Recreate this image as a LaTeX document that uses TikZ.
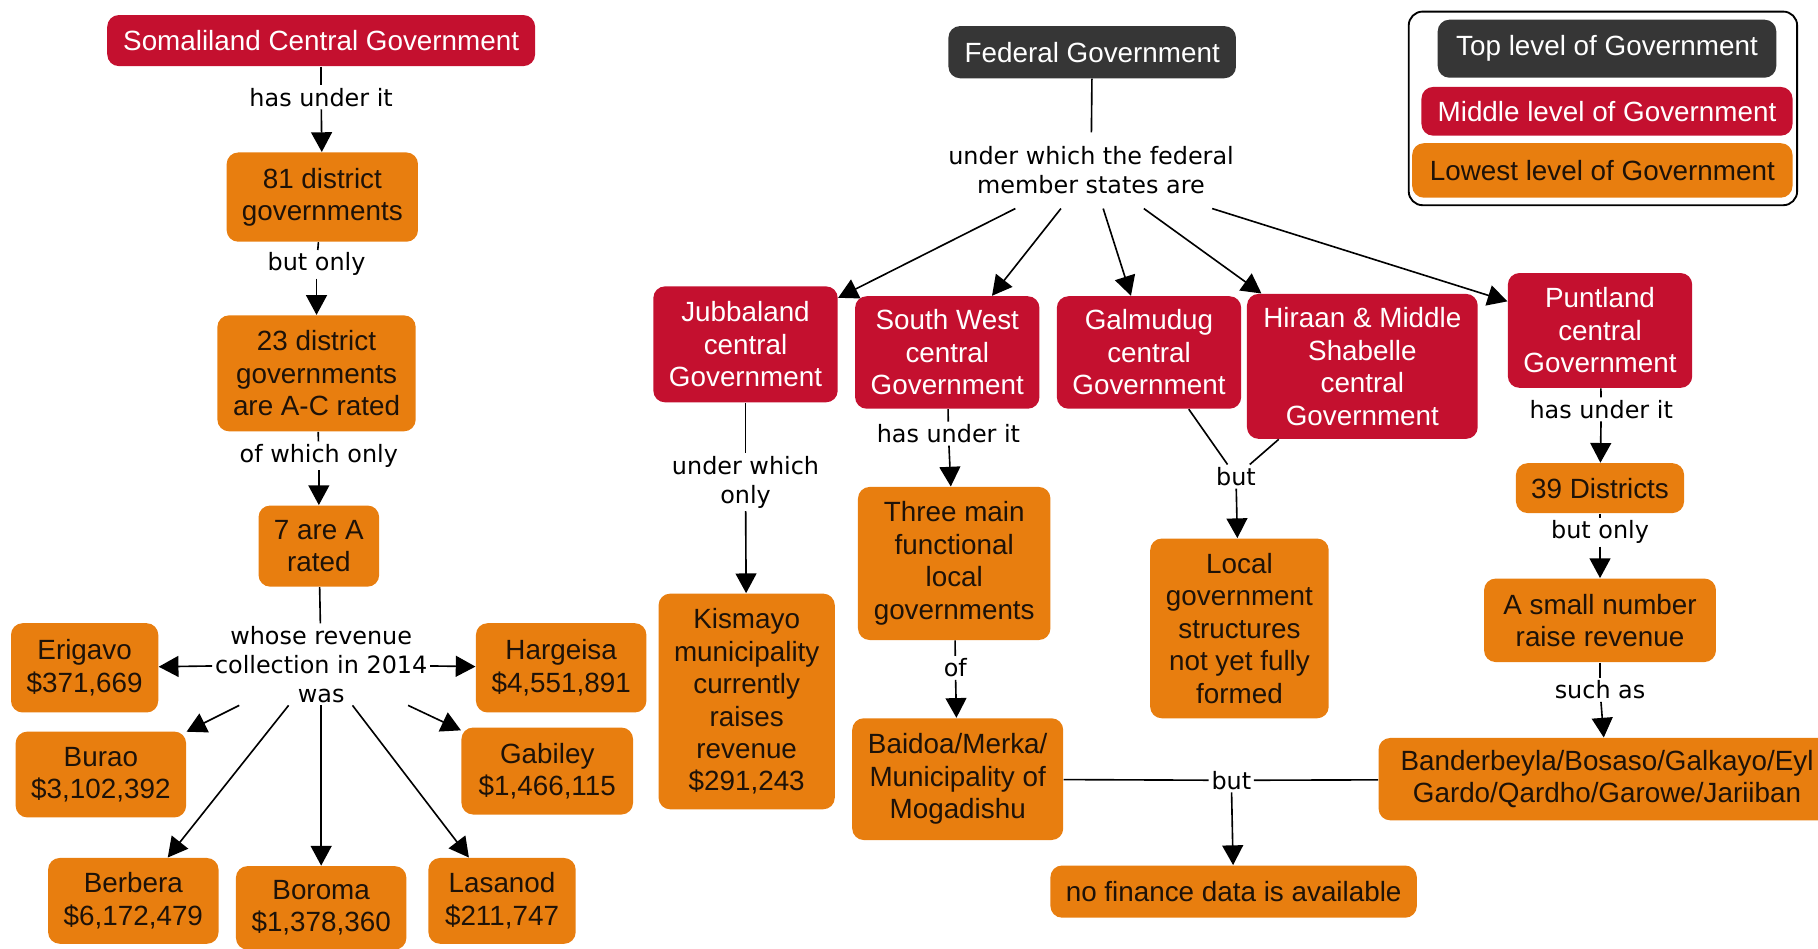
\documentclass[tikz,border=0pt]{standalone}
\usepackage{fontspec}
\setmainfont{Liberation Sans}
\newfontfamily\linkFamily{DejaVu Sans}
\usetikzlibrary{arrows.meta}
\definecolor{topGray}{HTML}{363636}
\definecolor{midRed}{HTML}{C4102F}
\definecolor{lowOrange}{HTML}{E87E0F}
\definecolor{lowText}{HTML}{1E1208}
\newcommand{\boxFont}{\fontsize{12}{14}\selectfont}
\newcommand{\linkFont}{\linkFamily\fontsize{10.3}{12.5}\selectfont}

\begin{document}
\begin{tikzpicture}[x=0.5pt,y=-0.5pt,
        topNode/.style = {fill=topGray,text=white,rounded corners=5pt,align=center,font=\boxFont,inner sep=2pt},
        midNode/.style = {topNode,fill=midRed},
        lowNode/.style = {topNode,fill=lowOrange,text=lowText},
        linkNode/.style = {font=\linkFont,align=center,inner sep=1pt}, % text on a connector
        legendFrame/.style = {draw=black,rounded corners=6pt,line width=0.8pt},
        link/.style = {line width=0.7pt},
        arr/.style = {link,-{Triangle[length=8.5pt,width=9pt]}}
        ]
        \useasboundingbox (0,0) rectangle (1568,818);
        \clip (0,0) rectangle (1568,818);

        % Somaliland
        \node[midNode,minimum width=184.5pt,minimum height=22pt] (som) at (277,35) {Somaliland Central Government};
        \node[lowNode,minimum width=82.5pt,minimum height=38.5pt] (d81) at (278,170) {81 district\\governments};
        \node[lowNode,minimum width=85.5pt,minimum height=50pt] (d23) at (273,322) {23 district\\governments\\are A-C rated};
        \node[lowNode,minimum width=52pt,minimum height=35pt] (d7) at (275,471) {7 are A\\rated};
        \node[lowNode,minimum width=63.5pt,minimum height=38.5pt] (erigavo) at (73,576) {Erigavo\\\$371,669};
        \node[lowNode,minimum width=73.5pt,minimum height=38.5pt] (hargeisa) at (484,576) {Hargeisa\\\$4,551,891};
        \node[lowNode,minimum width=73.5pt,minimum height=37pt] (burao) at (87,668) {Burao\\\$3,102,392};
        \node[lowNode,minimum width=74pt,minimum height=37.5pt] (gabiley) at (472,665) {Gabiley\\\$1,466,115};
        \node[lowNode,minimum width=73.5pt,minimum height=37pt] (berbera) at (115,777) {Berbera\\\$6,172,479};
        \node[lowNode,minimum width=73.5pt,minimum height=36pt] (boroma) at (277,783) {Boroma\\\$1,378,360};
        \node[lowNode,minimum width=63.5pt,minimum height=37pt] (lasanod) at (433,777) {Lasanod\\\$211,747};

        \node[linkNode] (somLbl) at (277,84) {has under it};
        \node[linkNode] (d81Lbl) at (273,228) {but only};
        \node[linkNode] (d23Lbl) at (275,393) {of which only};
        \node[linkNode] (whose) at (277,573) {whose revenue\\collection in 2014\\was};

        \draw[link] (som) -- (somLbl);
        \draw[arr] (somLbl) -- (d81);
        \draw[link] (d81) -- (d81Lbl);
        \draw[arr] (d81Lbl) -- (d23);
        \draw[link] (d23) -- (d23Lbl);
        \draw[arr] (d23Lbl) -- (d7);
        \draw[link] (d7) -- (whose);
        \foreach \town in {erigavo,hargeisa,burao,gabiley,berbera,boroma,lasanod}
            \draw[arr] (whose) -- (\town);

        % Federal
        \node[topNode,minimum width=124pt,minimum height=22.5pt] (fed) at (942,45) {Federal Government};
        \node[linkNode,inner ysep=6pt] (fedLbl) at (941,147) {under which the federal\\member states are};
        \node[midNode,minimum width=79.5pt,minimum height=50pt] (jubba) at (643,297) {Jubbaland\\central\\Government};
        \node[midNode,minimum width=79.5pt,minimum height=48.5pt] (southWest) at (817,304) {South West\\central\\Government};
        \node[midNode,minimum width=79.5pt,minimum height=48.5pt] (galmudug) at (991,304) {Galmudug\\central\\Government};
        \node[midNode,minimum width=99.5pt,minimum height=62.5pt] (hiraan) at (1175,316) {Hiraan \& Middle\\Shabelle\\central\\Government};
        \node[midNode,minimum width=79.5pt,minimum height=49.5pt] (puntland) at (1380,285) {Puntland\\central\\Government};

        \draw[link] (fed) -- (fedLbl);
        \foreach \state in {jubba,southWest,galmudug,hiraan,puntland}
            \draw[arr] (fedLbl) -- (\state);

        % Jubbaland and South West
        \node[linkNode] (jubbaLbl) at (643,416) {under which\\only};
        \node[lowNode,minimum width=76pt,minimum height=93pt] (kismayo) at (644,605) {Kismayo\\municipality\\currently\\raises\\revenue\\\$291,243};
        \node[linkNode] (swLbl) at (818,374) {has under it};
        \node[lowNode,minimum width=83pt,minimum height=66pt] (threeMain) at (823,486) {Three main\\functional\\local\\governments};
        \node[linkNode] (ofLbl) at (824,576) {of};
        \node[lowNode,minimum width=91pt,minimum height=52.5pt] (baidoa) at (826,672) {Baidoa/Merka/\\Municipality of\\Mogadishu};

        \draw[link] (jubba) -- (jubbaLbl);
        \draw[arr] (jubbaLbl) -- (kismayo);
        \draw[link] (southWest) -- (swLbl);
        \draw[arr] (swLbl) -- (threeMain);
        \draw[link] (threeMain) -- (ofLbl);
        \draw[arr] (ofLbl) -- (baidoa);

        % Galmudug and Hiraan
        \node[linkNode] (butLocal) at (1066,411) {but};
        \node[lowNode,minimum width=77pt,minimum height=77.5pt] (localGov) at (1069,542) {Local\\government\\structures\\not yet fully\\formed};
        \draw[link] (galmudug) -- (butLocal);
        \draw[link] (hiraan) -- (butLocal);
        \draw[arr] (butLocal) -- (localGov);

        % Puntland
        \node[linkNode] (ptLbl) at (1381,353) {has under it};
        \node[lowNode,minimum width=72.5pt,minimum height=21.5pt] (d39) at (1380,421) {39 Districts};
        \node[linkNode] (d39Lbl) at (1380,459) {but only};
        \node[lowNode,minimum width=100pt,minimum height=36pt] (smallNum) at (1380,535) {A small number\\raise revenue};
        \node[linkNode] (suchAs) at (1380,595) {such as};
        \node[lowNode,minimum width=197pt,minimum height=35.5pt] (bander) at (1386,672) {Banderbeyla/Bosaso/Galkayo/Eyl\\Gardo/Qardho/Garowe/Jariiban};

        \draw[link] (puntland) -- (ptLbl);
        \draw[arr] (ptLbl) -- (d39);
        \draw[link] (d39) -- (d39Lbl);
        \draw[arr] (d39Lbl) -- (smallNum);
        \draw[link] (smallNum) -- (suchAs);
        \draw[arr] (suchAs) -- (bander);

        % no data
        \node[linkNode] (butNo) at (1062,673) {but};
        \node[lowNode,minimum width=158pt,minimum height=22.5pt] (noFinance) at (1064,769) {no finance data is available};
        \draw[link] (baidoa) -- (butNo);
        \draw[link] (bander) -- (butNo);
        \draw[arr] (butNo) -- (noFinance);

        % legend
        \node[legendFrame,minimum width=167.5pt,minimum height=83.5pt] (legend) at (1382.5,93.5) {};
        \node[topNode,minimum width=146pt,minimum height=25pt] (legTop) at (1386,42) {Top level of Government};
        \node[midNode,minimum width=160pt,minimum height=21pt] (legMid) at (1386,96) {Middle level of Government};
        \node[lowNode,minimum width=164pt,minimum height=23.5pt] (legLow) at (1382,147) {Lowest level of Government};
\end{tikzpicture}
\end{document}
